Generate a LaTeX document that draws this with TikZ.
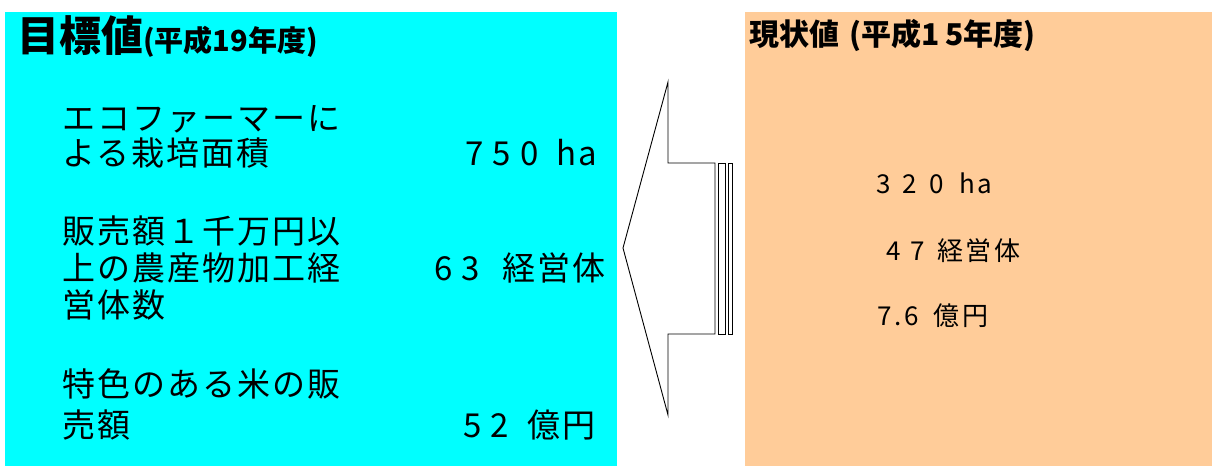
\documentclass[tikz,border=0pt]{standalone}
\usepackage{fontspec}
\usepackage{xcolor}
\newfontfamily\jpfont{Noto Sans CJK JP}
\newfontfamily\jpwide{Noto Sans CJK JP}[LetterSpace=6]
\newfontfamily\jpcur{Noto Sans CJK JP}[LetterSpace=10]
\definecolor{goalcyan}{RGB}{0,255,255}
\definecolor{nowpeach}{RGB}{255,204,153}
\newcommand\gap[1]{\hspace{#1pt}}

\begin{document}
\begin{tikzpicture}[x=1pt,y=-1pt,
     item/.style={anchor=base west,inner sep=0pt,font=\jpwide\fontsize{33}{35}\selectfont},
     cur/.style={anchor=base west,inner sep=0pt,font=\jpcur\fontsize{26}{30}\selectfont}
     ]
   \useasboundingbox (0,0) rectangle (1212,466);
   % the two panels: target values (left) and present values (right)
   \fill[goalcyan] (5,12) rectangle (617,466);
   \fill[nowpeach] (745,12) rectangle (1212,466);

   \node[anchor=base west,inner sep=0pt] (goal) at (17,51)
      {\jpfont\bfseries\fontsize{42}{42}\selectfont 目標値\fontsize{29}{29}\selectfont(平成19年度)};
   \node[anchor=base west,inner sep=0pt] (now) at (749,45)
      {\jpfont\bfseries\fontsize{30}{30}\selectfont 現状値\gap{10}(平成1\gap{6}5年度)};

   % items of the left panel, one line per node
   \foreach \i/\y/\desc in {1/130/{エコファーマーに},
          2/165/{よる栽培面積},
          3/243/{販売額１千万円以},
          4/280/{上の農産物加工経},
          5/317/{営体数},
          6/396/{特色のある米の販},
          7/437/{売額}}
   {
     \node[item] (it\i) at (62,\y) {\desc};
   }

   % target values
   \foreach \i/\x/\y/\desc in {1/465/165/{7 5 0\gap{18}ha},
          2/434/280/{6 3\gap{22}経営体},
          3/463/437/{5 2\gap{18}億円}}
   {
     \node[item] (goalval\i) at (\x,\y) {\desc};
   }

   % present values
   \foreach \i/\x/\y/\desc in {1/876/193/{3\gap{12}2\gap{12}0\gap{16}ha},
          2/886/260/{4\gap{10}7\gap{12}経営体},
          3/877/325/{7.6\gap{15}億円}}
   {
     \node[cur] (nowval\i) at (\x,\y) {\desc};
   }

   % block arrow pointing from present to target
   \draw[line width=0.9pt,fill=white]
      (715,163)--(668,163)--(668,82)--(623,248)--(668,415)
             --(668,334)--(715,334)--cycle;
   \draw[line width=0.9pt] (718,163) rectangle (725,334);
   \draw[line width=0.9pt] (728,163) rectangle (732,334);
 \end{tikzpicture}
\end{document}
